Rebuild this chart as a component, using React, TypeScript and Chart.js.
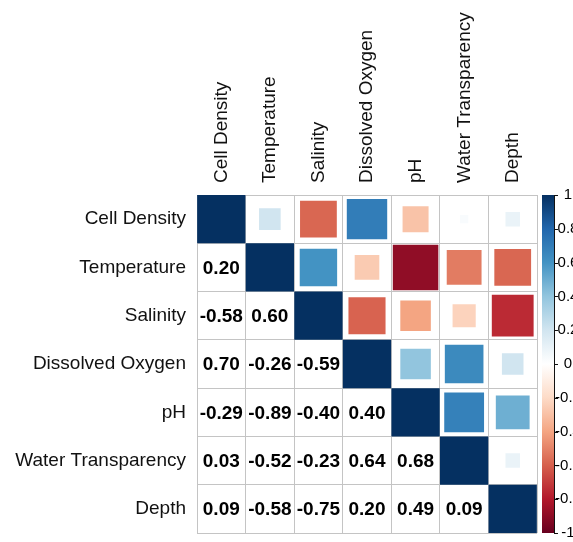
import { useEffect, useRef } from 'react';
import { Chart, registerables } from 'chart.js';

Chart.register(...registerables);

// ---- data ----
const variables = [
  'Cell Density',
  'Temperature',
  'Salinity',
  'Dissolved Oxygen',
  'pH',
  'Water Transparency',
  'Depth',
];

const cellDensity = [1, 0.2, -0.58, 0.7, -0.29, 0.03, 0.09];
const temperature = [0.2, 1, 0.6, -0.26, -0.89, -0.52, -0.58];
const salinity = [-0.58, 0.6, 1, -0.59, -0.4, -0.23, -0.75];
const dissolvedOxygen = [0.7, -0.26, -0.59, 1, 0.4, 0.64, 0.2];
const pH = [-0.29, -0.89, -0.4, 0.4, 1, 0.68, 0.49];
const waterTransparency = [0.03, -0.52, -0.23, 0.64, 0.68, 1, 0.09];
const depth = [0.09, -0.58, -0.75, 0.2, 0.49, 0.09, 1];

const corr = [cellDensity, temperature, salinity, dissolvedOxygen, pH, waterTransparency, depth];

const colorbarTicks = [1, 0.8, 0.6, 0.4, 0.2, 0, -0.2, -0.4, -0.6, -0.8, -1];
const colorbarLabels = ['1', '0.8', '0.6', '0.4', '0.2', '0', '-0.2', '-0.4', '-0.6', '-0.8', '-1'];

// ---- style ----
const palette = [
  '#67001F', '#B2182B', '#D6604D', '#F4A582', '#FDDBC7', '#FFFFFF',
  '#D1E5F0', '#92C5DE', '#4393C3', '#2166AC', '#053061',
];
const FONT = '"Liberation Sans", Arial, Helvetica, sans-serif';

function hexToRgb(h: string): number[] {
  const n = parseInt(h.slice(1), 16);
  return [(n >> 16) & 255, (n >> 8) & 255, n & 255];
}

function corrColor(v: number): string {
  const t = ((v + 1) / 2) * (palette.length - 1);
  const i = Math.max(0, Math.min(Math.floor(t), palette.length - 2));
  const f = t - i;
  const a = hexToRgb(palette[i]);
  const b = hexToRgb(palette[i + 1]);
  const c = a.map((av, k) => Math.round(av + (b[k] - av) * f));
  return `rgb(${c[0]},${c[1]},${c[2]})`;
}

type Pt = { x: string; y: string; r: number };

const upperPoints: Pt[] = [];
corr.forEach((row, i) => {
  row.forEach((v, j) => {
    if (j >= i) upperPoints.push({ x: variables[j], y: variables[i], r: v });
  });
});

const overlayPlugin = {
  id: 'corrOverlay',
  afterDatasetsDraw(chart: any) {
    const { ctx, chartArea } = chart;
    const xs = chart.scales.x;
    const ys = chart.scales.y;
    ctx.save();
    ctx.font = `bold 19px ${FONT}`;
    ctx.fillStyle = '#000';
    ctx.textAlign = 'center';
    ctx.textBaseline = 'middle';
    corr.forEach((row, i) => {
      row.forEach((v, j) => {
        if (j < i) {
          ctx.fillText(v.toFixed(2), xs.getPixelForValue(j), ys.getPixelForValue(i) + 1);
        }
      });
    });

    // colour legend
    const cb = chart.scales.cb;
    const top = cb.getPixelForValue(1);
    const bottom = cb.getPixelForValue(-1);
    const left = chartArea.right + 5;
    const w = 12;
    const grad = ctx.createLinearGradient(0, bottom, 0, top);
    palette.forEach((c, k) => grad.addColorStop(k / (palette.length - 1), c));
    ctx.fillStyle = grad;
    ctx.fillRect(left, top, w, bottom - top);
    ctx.strokeStyle = '#111';
    ctx.lineWidth = 1;
    ctx.beginPath();
    ctx.moveTo(left + w + 0.5, top);
    ctx.lineTo(left + w + 0.5, bottom);
    colorbarTicks.forEach((t) => {
      const py = Math.round(cb.getPixelForValue(t)) + 0.5;
      ctx.moveTo(left + w, py);
      ctx.lineTo(left + w + 4, py);
    });
    ctx.stroke();
    ctx.font = `15px ${FONT}`;
    ctx.fillStyle = '#000';
    ctx.textAlign = 'center';
    colorbarTicks.forEach((t, k) => {
      ctx.fillText(colorbarLabels[k], left + w + 14, cb.getPixelForValue(t));
    });
    ctx.restore();
  },
};

export default function App() {
  const ref = useRef<HTMLCanvasElement | null>(null);

  useEffect(() => {
    if (!ref.current) return;
    const chart = new Chart(ref.current, {
      type: 'scatter',
      data: {
        datasets: [
          {
            data: upperPoints as any,
            pointStyle: 'rect',
            borderWidth: 0,
            backgroundColor: (c: any) => corrColor(c.raw ? c.raw.r : 0),
            borderColor: (c: any) => corrColor(c.raw ? c.raw.r : 0),
            pointRadius: (c: any) => {
              const xs = c.chart.scales.x;
              const ys = c.chart.scales.y;
              if (!xs || !ys || !c.raw) return 0;
              const cw = Math.abs(xs.getPixelForValue(1) - xs.getPixelForValue(0));
              const ch = Math.abs(ys.getPixelForValue(1) - ys.getPixelForValue(0));
              const cell = Math.min(cw, ch);
              return (cell * Math.sqrt(Math.abs(c.raw.r))) / Math.SQRT2;
            },
            pointHoverRadius: 0,
          } as any,
        ],
      },
      options: {
        animation: false,
        responsive: true,
        maintainAspectRatio: false,
        layout: { padding: { top: 0, left: 0, right: 36, bottom: 9 } },
        plugins: { legend: { display: false }, tooltip: { enabled: false } },
        scales: {
          x: {
            type: 'category',
            labels: variables,
            position: 'top',
            offset: true,
            grid: { offset: true, color: '#c4c4c4', drawTicks: false, lineWidth: 1 },
            border: { display: true, color: '#c4c4c4' },
            ticks: {
              autoSkip: false,
              maxRotation: 90,
              minRotation: 90,
              padding: 12,
              labelOffset: 23,
              color: '#111',
              font: { family: FONT, size: 19 },
            },
            afterFit: (s: any) => {
              s.height = 195;
              s.paddingLeft = 0;
              s.paddingRight = 0;
              s.paddingTop = 0;
              s.paddingBottom = 0;
            },
          },
          y: {
            type: 'category',
            labels: variables,
            position: 'left',
            offset: true,
            grid: { offset: true, color: '#c4c4c4', drawTicks: false, lineWidth: 1 },
            border: { display: true, color: '#c4c4c4' },
            ticks: {
              autoSkip: false,
              padding: 11,
              color: '#111',
              font: { family: FONT, size: 19 },
            },
            afterFit: (s: any) => {
              s.width = 197;
              s.paddingLeft = 0;
              s.paddingRight = 0;
              s.paddingTop = 0;
              s.paddingBottom = 0;
            },
          },
          cb: {
            type: 'linear',
            position: 'right',
            display: false,
            min: -1,
            max: 1,
          },
        } as any,
      },
      plugins: [overlayPlugin],
    });
    return () => chart.destroy();
  }, []);

  return (
    <div style={{ position: 'absolute', left: 0, top: 0, width: 573, height: 542, background: '#fff' }}>
      <canvas ref={ref} />
    </div>
  );
}
